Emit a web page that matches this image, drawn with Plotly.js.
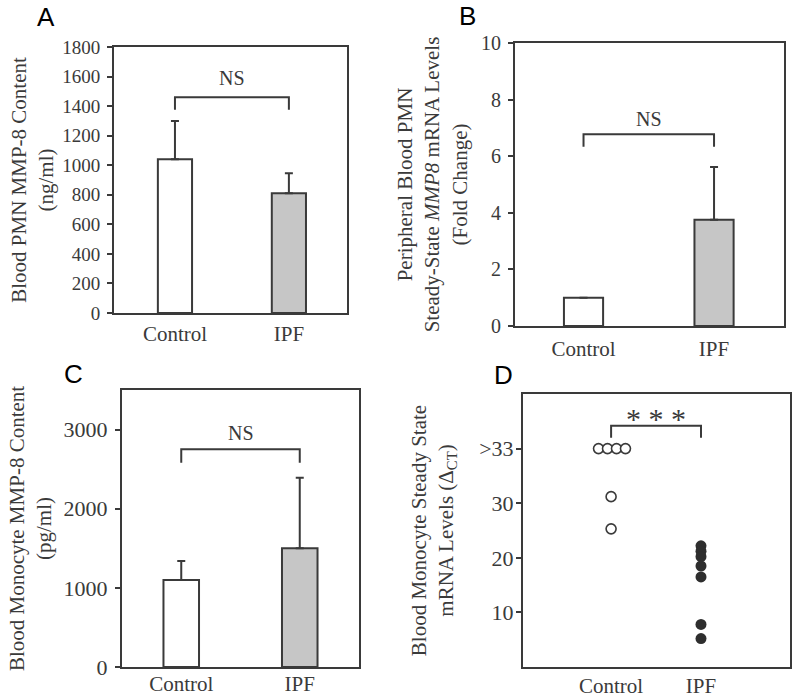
<!DOCTYPE html>
<html>
<head>
<meta charset="utf-8">
<script src="https://cdn.plot.ly/plotly-3.0.1.min.js"></script>
<style>
  body { margin: 0; background: #fff; }
  #chart { width: 797px; height: 699px; }
</style>
</head>
<body>
<div id="chart"></div>
<script>
// groups on every panel
var groups = ["Control", "IPF"];
var groupPos = [0, 1];

// A - blood PMN MMP-8 content (ng/ml)
var pmnProtein = [1040, 810];
var pmnProteinErr = [260, 135];
var pmnProteinTicks = [0, 200, 400, 600, 800, 1000, 1200, 1400, 1600, 1800];
var bracketA = [1375, 1460];
var labelA = "NS";

// B - PMN MMP8 mRNA fold change
var pmnMrna = [1.0, 3.75];
var pmnMrnaErr = [null, 1.87];
var pmnMrnaTicks = [0, 2, 4, 6, 8, 10];
var bracketB = [6.33, 6.78];
var labelB = "NS";

// C - blood monocyte MMP-8 content (pg/ml)
var monoProtein = [1100, 1500];
var monoProteinErr = [240, 890];
var monoProteinTicks = [0, 1000, 2000, 3000];
var bracketC = [2580, 2750];
var labelC = "NS";

// D - monocyte MMP8 mRNA delta CT (40 on the axis = ">33")
var ctrlCtX = [-0.14, -0.04, 0.06, 0.16, 0, 0];
var ctrlCt = [40, 40, 40, 40, 31.2, 25.3];
var ipfCtX = [1, 1, 1, 1, 1, 1, 1];
var ipfCt = [22.2, 21.2, 20.2, 18.5, 16.5, 7.8, 5.2];
var ctTicks = [10, 20, 30, 40];
var ctTickText = ["10", "20", "30", ">33"];
var bracketD = [42, 44.2];
var labelD = "* * *";

var ink = "#3a3a3a";
var serif = "Liberation Serif";
var sans = "Liberation Sans";
var W = 797, H = 699;

function px(x) { return x / W; }
function py(y) { return 1 - y / H; }

function barTrace(vals, errs, xa, ya) {
  return {
    type: "bar",
    x: groupPos,
    y: vals,
    width: 0.3,
    xaxis: xa, yaxis: ya,
    marker: {color: ["#ffffff", "#c6c6c6"], line: {color: ink, width: 2}},
    error_y: {type: "data", symmetric: false, array: errs, arrayminus: [0, 0],
              color: ink, thickness: 2, width: 4},
    hoverinfo: "y"
  };
}

function bracketTrace(b, xa, ya) {
  return {
    type: "scatter", mode: "lines",
    x: [groupPos[0], groupPos[0], groupPos[1], groupPos[1]],
    y: [b[0], b[1], b[1], b[0]],
    xaxis: xa, yaxis: ya,
    line: {color: ink, width: 2},
    hoverinfo: "skip"
  };
}

var data = [
  barTrace(pmnProtein, pmnProteinErr, "x", "y"),
  bracketTrace(bracketA, "x", "y"),
  barTrace(pmnMrna, pmnMrnaErr, "x2", "y2"),
  bracketTrace(bracketB, "x2", "y2"),
  barTrace(monoProtein, monoProteinErr, "x3", "y3"),
  bracketTrace(bracketC, "x3", "y3"),
  {
    type: "scatter", mode: "markers", x: ctrlCtX, y: ctrlCt, xaxis: "x4", yaxis: "y4",
    marker: {size: 10, color: "#ffffff", line: {color: ink, width: 1.6}}
  },
  {
    type: "scatter", mode: "markers", x: ipfCtX, y: ipfCt, xaxis: "x4", yaxis: "y4",
    marker: {size: 11, color: "#2e2e2e", line: {width: 0}}
  },
  bracketTrace(bracketD, "x4", "y4")
];

function xAxis(dom, range, anchor, standoff) {
  return {
    domain: dom, range: range, anchor: anchor,
    tickvals: groupPos, ticktext: groups,
    showline: true, mirror: true, linecolor: ink, linewidth: 2,
    ticks: "", showgrid: false, zeroline: false, fixedrange: true,
    ticklabelstandoff: standoff,
    tickfont: {family: serif, size: 21, color: ink}
  };
}

function yAxis(dom, range, anchor, tickvals, tickSize, tickStandoff, title, standoff) {
  return {
    domain: dom, range: range, anchor: anchor,
    tickvals: tickvals,
    showline: true, mirror: true, linecolor: ink, linewidth: 2,
    ticks: "outside", ticklen: 5, tickwidth: 2, tickcolor: ink,
    showgrid: false, zeroline: false, fixedrange: true,
    ticklabelstandoff: tickStandoff,
    tickfont: {family: serif, size: tickSize, color: ink},
    title: {text: title, standoff: standoff, font: {family: serif, size: 21, color: ink}}
  };
}

var layout = {
  width: W, height: H,
  margin: {l: 0, r: 0, t: 0, b: 0},
  paper_bgcolor: "#ffffff", plot_bgcolor: "#ffffff",
  showlegend: false,
  bargap: 0,
  xaxis: xAxis([px(114), px(347)], [-0.535, 1.51], "y", 1),
  yaxis: yAxis([py(313), py(47)], [0, 1800], "x", pmnProteinTicks, 19, 3,
               "Blood PMN MMP-8 Content<br>(ng/ml)", 3),
  xaxis2: xAxis([px(515), px(784)], [-0.525, 1.536], "y2", 3),
  yaxis2: yAxis([py(326), py(43)], [0, 10], "x2", pmnMrnaTicks, 20, 3,
                "Peripheral Blood PMN<br>Steady-State <i>MMP8</i> mRNA Levels<br>(Fold Change)", 8),
  xaxis3: xAxis([px(122), px(359)], [-0.5, 1.5], "y3", -3),
  yaxis3: yAxis([py(667), py(390)], [0, 3500], "x3", monoProteinTicks, 22, 3,
                "Blood Monocyte MMP-8 Content<br>(pg/ml)", 6),
  xaxis4: xAxis([px(523), px(790)], [-0.98, 1.99], "y4", -1),
  yaxis4: Object.assign(
    yAxis([py(667), py(394)], [0, 50], "x4", ctTicks, 22, -2,
          "Blood Monocyte Steady State<br>mRNA Levels (Δ<sub>CT</sub>)", 20),
    {ticktext: ctTickText}),
  annotations: [
    {xref: "x", yref: "y", x: 0.5, y: 1590, text: labelA, showarrow: false,
     font: {family: serif, size: 20, color: ink}},
    {xref: "x2", yref: "y2", x: 0.5, y: 7.3, text: labelB, showarrow: false,
     font: {family: serif, size: 20, color: ink}},
    {xref: "x3", yref: "y3", x: 0.5, y: 2960, text: labelC, showarrow: false,
     font: {family: serif, size: 20, color: ink}},
    {xref: "x4", yref: "y4", x: 0.5, y: 45.6, text: labelD, showarrow: false,
     font: {family: serif, size: 30, color: ink}},
    {xref: "paper", yref: "paper", x: px(46), y: py(16.5), text: "A", showarrow: false,
     xanchor: "center", yanchor: "middle", font: {family: sans, size: 26, color: "#000"}},
    {xref: "paper", yref: "paper", x: px(468), y: py(16), text: "B", showarrow: false,
     xanchor: "center", yanchor: "middle", font: {family: sans, size: 26, color: "#000"}},
    {xref: "paper", yref: "paper", x: px(73), y: py(374), text: "C", showarrow: false,
     xanchor: "center", yanchor: "middle", font: {family: sans, size: 26, color: "#000"}},
    {xref: "paper", yref: "paper", x: px(503), y: py(375), text: "D", showarrow: false,
     xanchor: "center", yanchor: "middle", font: {family: sans, size: 26, color: "#000"}}
  ]
};

Plotly.newPlot("chart", data, layout, {displayModeBar: false, staticPlot: true});
</script>
</body>
</html>
